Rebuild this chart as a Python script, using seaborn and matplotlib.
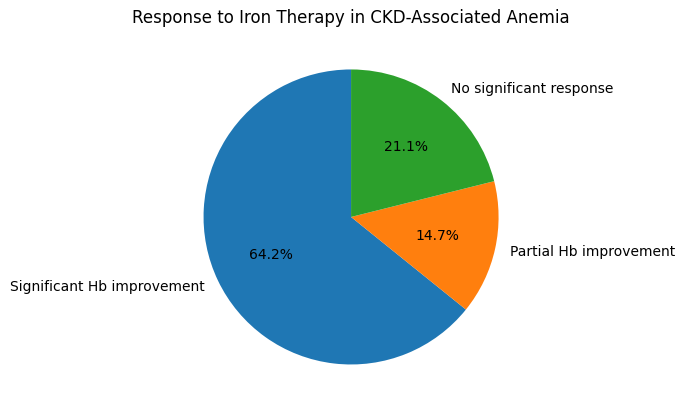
import matplotlib
matplotlib.use("Agg")
import matplotlib.pyplot as plt
import seaborn as sns

labels = ["Significant Hb improvement", "Partial Hb improvement", "No significant response"]
shares = [64.2, 14.7, 21.1]

colors = sns.color_palette("tab10", 3)

fig, ax = plt.subplots(figsize=(6.85, 4.11), dpi=100)
fig.subplots_adjust(left=0.125, right=0.9, bottom=0.0773, top=0.8669)
ax.pie(shares, labels=labels, colors=colors, autopct="%1.1f%%", startangle=90)
ax.set_title("Response to Iron Therapy in CKD-Associated Anemia", pad=22.7)
ax.axis("equal")

plt.savefig("out.png", dpi=100)
